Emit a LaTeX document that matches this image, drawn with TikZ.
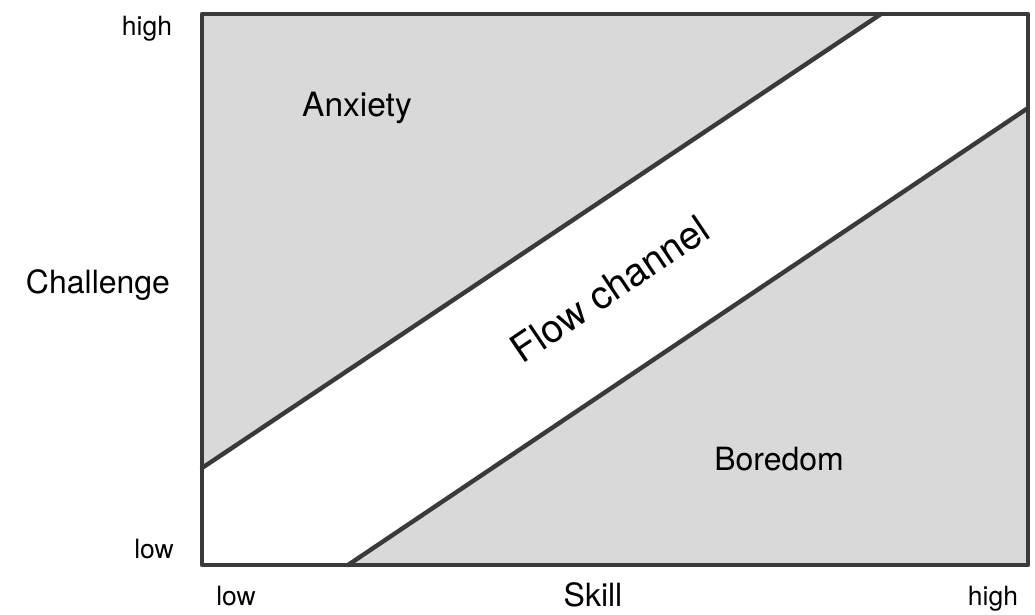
\documentclass[tikz,border=0pt]{standalone}
\usepackage{fontspec}
\setmainfont{TeX Gyre Heros}
\definecolor{zonegray}{HTML}{D9D9D9}
\definecolor{inkgray}{HTML}{3A3A3A}
\begin{document}
\begin{tikzpicture}[x=1pt,y=-1pt,
  zone/.style={fill=zonegray,draw=none},
  edge/.style={draw=inkgray,line width=4.4pt,line cap=round,line join=round},
  axislbl/.style={font=\fontsize{26.5}{30}\selectfont,anchor=base,inner sep=0pt},
  bigl/.style={font=\fontsize{32}{36}\selectfont,anchor=base,inner sep=0pt},
  zonelbl/.style={font=\fontsize{33.5}{38}\selectfont,anchor=base,inner sep=0pt}]
\useasboundingbox (0,0) rectangle (1035,615);
\coordinate (tl) at (202,14);
\coordinate (tr) at (1028,14);
\coordinate (bl) at (202,565);
\coordinate (br) at (1028,565);
\coordinate (ua) at (881,14);
\coordinate (ub) at (202,468);
\coordinate (la) at (348,565);
\coordinate (lb) at (1028,108);
% fills
\path[zone] (tl) -- (ua) -- (ub) -- cycle;
\path[zone] (la) -- (br) -- (lb) -- cycle;
% diagonals
\draw[edge] (ub) -- (ua);
\draw[edge] (la) -- (lb);
% border
\draw[edge] (tl) -- (tr) -- (br) -- (bl) -- cycle;
% labels
\node[axislbl] (yhigh) at (147,36) {high};
\node[axislbl] (ylow) at (154,558) {low};
\node[bigl] (ylab) at (98,293) {Challenge};
\node[axislbl] (xlow) at (236,605) {low};
\node[bigl] (xlab) at (593,606) {Skill};
\node[axislbl] (xhigh) at (993,605) {high};
\node[zonelbl] (anx) at (357,117) {Anxiety};
\node[bigl] (bor) at (779,470) {Boredom};
\node[font=\fontsize{39}{44}\selectfont,rotate=34,inner sep=0pt] (flow) at (610,289) {Flow channel};
\end{tikzpicture}
\end{document}
